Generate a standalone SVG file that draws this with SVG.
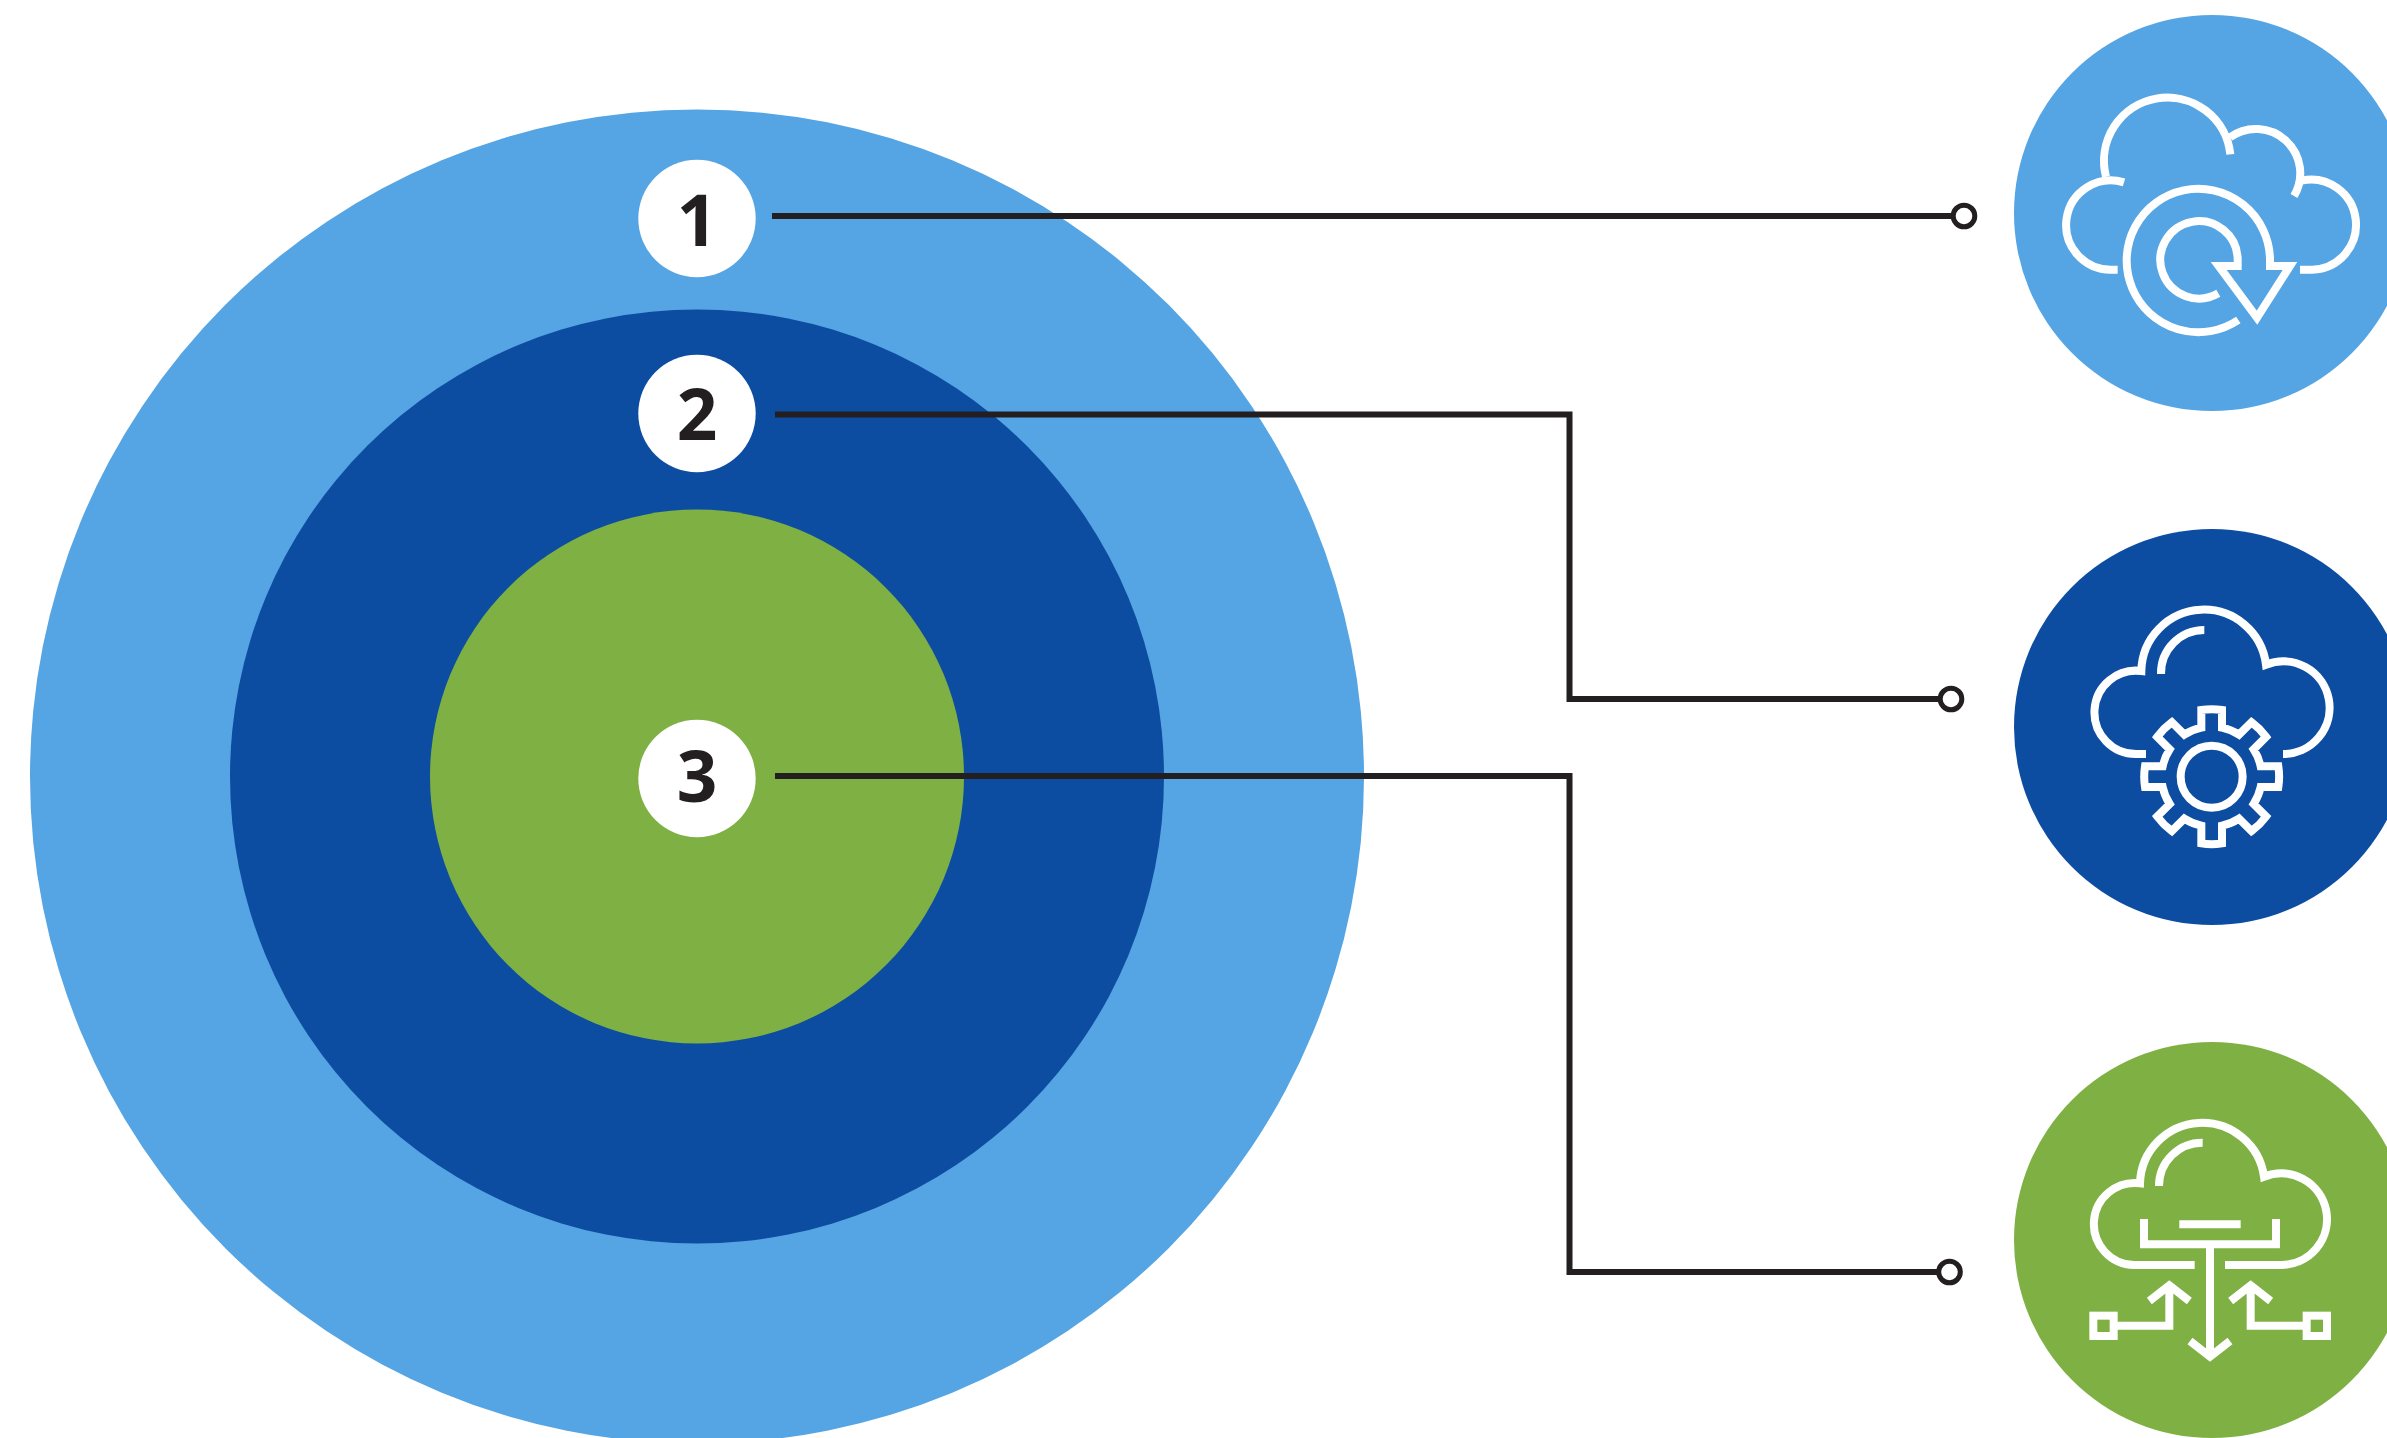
<svg xmlns="http://www.w3.org/2000/svg" width="2387" height="1438" viewBox="0 0 2387 1438">
<style>
.light{fill:#55a4e3}.dark{fill:#0c4da2}.green{fill:#7eb043}
.badge{fill:#fff}
.num{font-family:"Open Sans","Liberation Sans",sans-serif;font-weight:700;font-size:71px;fill:#231f20;text-anchor:middle}
.ic{fill:none;stroke:#fff;stroke-width:24;stroke-miterlimit:10}
.wire{fill:none;stroke:#231f20;stroke-width:6}
.pin{fill:#fff;stroke:#231f20;stroke-width:5}
</style>
<rect width="2387" height="1438" fill="#fff"/>
<g id="ring-outer"><circle class="light" cx="697" cy="776.500" r="667"/></g>
<g id="ring-middle"><circle class="dark" cx="697" cy="776.500" r="467"/></g>
<g id="ring-inner"><circle class="green" cx="697" cy="776.500" r="267"/></g>
<g id="badge-1"><circle class="badge" cx="697" cy="218.500" r="58.700"/><text class="num" x="697" y="245.500">1</text></g>
<g id="badge-2"><circle class="badge" cx="697" cy="413.500" r="58.700"/><text class="num" x="697" y="440">2</text></g>
<g id="badge-3"><circle class="badge" cx="697" cy="778.500" r="58.700"/><text class="num" x="697" y="802">3</text></g>
<g id="connectors">
<path class="wire" d="M772 216H1953"/>
<path class="wire" d="M775 414.500H1569.500V699H1940"/>
<path class="wire" d="M775 776H1569.500V1272H1938"/>
<circle class="pin" cx="1964" cy="216" r="10.800"/>
<circle class="pin" cx="1951" cy="699" r="10.800"/>
<circle class="pin" cx="1949.500" cy="1272" r="10.800"/>
</g>
<g id="icon-node-1">
<circle class="light" cx="2212" cy="213" r="198"/>
<g transform="translate(2000 60) scale(.33333)">
<path class="ic" d="M353 629H335A134 134 0 1 1 372 367"/>
<path class="ic" d="M318 350A190 190 0 1 1 691 283"/>
<path class="ic" d="M690 232A133 133 0 0 1 882 408"/>
<path class="ic" d="M905 362A135 135 0 1 1 937 629H900"/>
<path class="ic" d="M715 780A215 215 0 1 1 810 598V618H870L771 773L656 618H713V598A116 116 0 1 0 655 700"/>
</g>
</g>
<g id="icon-node-2">
<circle class="dark" cx="2212" cy="727" r="198"/>
<g transform="translate(2040 580) scale(.33333)">
<path class="ic" d="M318 522H290A125 125 0 1 1 304 273A187.700 187.700 0 0 1 678 254A139 139 0 1 1 729 522"/>
<path class="ic" d="M363 282A130 130 0 0 1 493 150"/>
<circle class="ic" cx="515" cy="590" r="93"/>
<path class="ic" transform="translate(515 590)" d="M-31 -147V-200A203 203 0 0 1 31 -200V-147A150 150 0 0 1 82 -125.900L119.500 -163.300A203 203 0 0 1 163.300 -119.500L125.900 -82A150 150 0 0 1 147 -31H200A203 203 0 0 1 200 31H147A150 150 0 0 1 125.900 82L163.300 119.500A203 203 0 0 1 119.500 163.300L82 125.900A150 150 0 0 1 31 147V200A203 203 0 0 1 -31 200V147A150 150 0 0 1 -82 125.900L-119.500 163.300A203 203 0 0 1 -163.300 119.500L-125.900 82A150 150 0 0 1 -147 31H-200A203 203 0 0 1 -200 -31H-147A150 150 0 0 1 -125.900 -82L-163.300 -119.500A203 203 0 0 1 -119.500 -163.300L-82 -125.900A150 150 0 0 1 -31 -147Z"/>
</g>
</g>
<g id="icon-node-3">
<circle class="green" cx="2212" cy="1240" r="198"/>
<g transform="translate(2060 1100) scale(.33333)">
<path class="ic" d="M404 495H222A123 123 0 1 1 240 250A186.900 186.900 0 0 1 612 230A137.500 137.500 0 1 1 662.500 495H495"/>
<path class="ic" d="M297 258A130 130 0 0 1 428 128"/>
<path class="ic" d="M252 357V433H648V357M358 373H542M450 433V770M390 723L450 770L510 723"/>
<path class="ic" d="M268 603L328 556L388 603M328 556V677H161"/>
<path class="ic" d="M512 603L572 556L632 603M572 556V677H740"/>
<rect class="ic" x="100" y="647" width="61" height="61"/>
<rect class="ic" x="740" y="647" width="61" height="61"/>
</g>
</g>
</svg>
